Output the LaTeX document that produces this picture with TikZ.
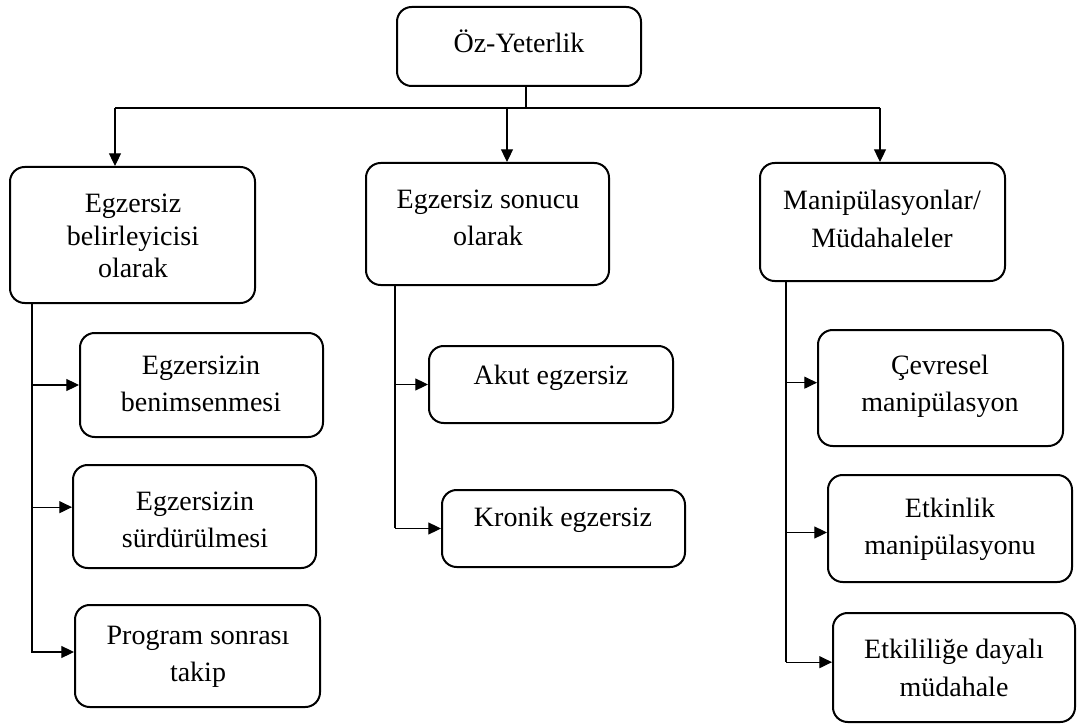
\documentclass[tikz,border=0pt]{standalone}
\usepackage{fontspec}
\setmainfont{Liberation Serif}
\usetikzlibrary{arrows.meta,fit}
\begin{document}
\begin{tikzpicture}[x=0.75pt,y=-0.75pt,
  box/.style={draw, line width=1.5pt, rounded corners=11pt, inner sep=0pt},
  txt/.style={font=\fontsize{21}{28}\selectfont, align=center, inner sep=0pt},
  txtb/.style={txt, font=\fontsize{21}{24.6}\selectfont},
  conn/.style={line width=0.8pt},
  arr/.style={conn, -{Triangle[length=9.5pt,width=9pt]}}]
\useasboundingbox (0,0) rectangle (1083,724);

% boxes
\node[box, fit={(397,7)(641,86)}] (oz) {};
\node[txt] (ozt) at (519,41) {Öz-Yeterlik};

\node[box, fit={(10,167)(255,303)}] (b1) {};
\node[txtb] (b1t) at (133,236) {Egzersiz\\belirleyicisi\\olarak};
\node[box, fit={(366,163)(609,285)}] (b2) {};
\node[txt] (b2t) at (488,218) {Egzersiz sonucu\\olarak};
\node[box, fit={(760,163)(1005,281)}] (b3) {};
\node[txt] (b3t) at (882,219) {Manipülasyonlar/\\Müdahaleler};

\node[box, fit={(80,333)(323,437)}] (c11) {};
\node[txt] (c11t) at (201,384) {Egzersizin\\benimsenmesi};
\node[box, fit={(73,465)(316,568)}] (c12) {};
\node[txt] (c12t) at (195,520) {Egzersizin\\sürdürülmesi};
\node[box, fit={(75,605)(320,707)}] (c13) {};
\node[txt] (c13t) at (198,657) {Program sonrası\\takip};

\node[box, fit={(429,346)(673,423)}] (c21) {};
\node[txt] (c21t) at (551,378) {Akut egzersiz};
\node[box, fit={(442,490)(685,567)}] (c22) {};
\node[txt] (c22t) at (563,520) {Kronik egzersiz};

\node[box, fit={(818,330)(1063,446)}] (c31) {};
\node[txt] (c31t) at (940,386) {Çevresel\\manipülasyon};
\node[box, fit={(828,475)(1072,582)}] (c32) {};
\node[txt] (c32t) at (950,529) {Etkinlik\\manipülasyonu};
\node[box, fit={(833,613)(1075,722)}] (c33) {};
\node[txt] (c33t) at (954,668) {Etkililiğe dayalı\\müdahale};

% bus
\coordinate (stem) at (526,108);
\coordinate (busL) at (115,108);
\coordinate (busM) at (507,108);
\coordinate (busR) at (880,108);
\draw[conn] (oz.south -| stem) -- (stem);
\draw[conn] (busL) -- (busR);
\draw[arr] (busL) -- (b1.north -| busL);
\draw[arr] (busM) -- (b2.north -| busM);
\draw[arr] (busR) -- (b3.north -| busR);

% left column
\coordinate (v1) at (32,0);
\coordinate (v1e) at (32,653);
\draw[conn] (b1.south -| v1) -- (v1e);
\draw[arr] (c11.west -| v1) -- (c11.west);
\draw[arr] ([yshift=7pt]c12.west -| v1) -- ([yshift=7pt]c12.west);
\draw[arr] ([yshift=3pt]c13.west -| v1) -- ([yshift=3pt]c13.west);

% middle column
\coordinate (v2) at (395,0);
\coordinate (v2e) at (395,528);
\draw[conn] (b2.south -| v2) -- (v2e);
\draw[arr] (c21.west -| v2) -- (c21.west);
\draw[arr] (c22.west -| v2) -- (c22.west);

% right column
\coordinate (v3) at (786,0);
\coordinate (v3e) at (786,662);
\draw[conn] (b3.south -| v3) -- (v3e);
\draw[arr] ([yshift=4pt]c31.west -| v3) -- ([yshift=4pt]c31.west);
\draw[arr] ([yshift=-3pt]c32.west -| v3) -- ([yshift=-3pt]c32.west);
\draw[arr] ([yshift=4pt]c33.west -| v3) -- ([yshift=4pt]c33.west);
\end{tikzpicture}
\end{document}
